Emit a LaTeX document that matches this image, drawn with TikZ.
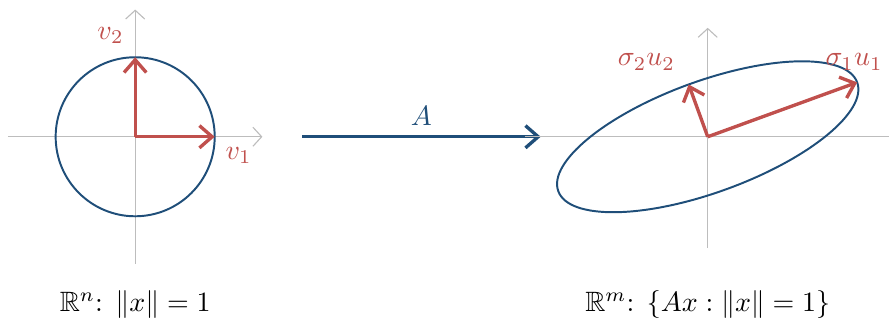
\documentclass[tikz,border=0pt]{standalone}
\usepackage{amsmath,amssymb}
\usepackage{xcolor}
\usepackage{tikz}
\usetikzlibrary{arrows.meta,positioning}
\definecolor{bluex}{HTML}{1F4E79}
\definecolor{redx}{HTML}{C0504D}
\definecolor{grayx}{HTML}{BDBDBD}
\tikzset{
  ax/.style={-{Straight Barb[length=1.1mm,width=2.4mm]},thin,grayx},
  axn/.style={thin,grayx},
  ar/.style={-{Straight Barb[length=1.6mm,width=2.8mm]},very thick,redx},
  arb/.style={-{Straight Barb[length=1.6mm,width=2.8mm]},very thick,bluex},
  cv/.style={draw=bluex,line width=0.7pt},
  lb/.style={text=redx}
}

\begin{document}
\begin{tikzpicture}
\useasboundingbox (-1.7,-2.33) rectangle (9.48,1.72);
% left: unit circle
\coordinate (o1) at (0,0);
\coordinate (x1a) at (-1.6,0); \coordinate (x1b) at (1.6,0);
\coordinate (y1a) at (0,-1.6); \coordinate (y1b) at (0,1.6);
\draw[ax] (x1a)--(x1b); \draw[ax] (y1a)--(y1b);
\draw[cv] (o1) circle (1);
\coordinate (v1) at (1,0); \coordinate (v2) at (0,1);
\draw[ar] (o1)--(v1); \draw[ar] (o1)--(v2);
\node[lb] (lv1) at (1.3,-0.24) {$v_1$};
\node[lb] (lv2) at (-0.31,1.27) {$v_2$};
\node (cap1) at (0,-2.11) {$\mathbb{R}^n$: $\|x\|=1$};
% the map
\coordinate (a0) at (2.1,0); \coordinate (a1) at (5.1,0);
\draw[arb] (a0)--(a1) node[midway,above,text=bluex] (la) {$A$};
% right: image ellipse
\coordinate (o2) at (7.2,0);
\coordinate (x2a) at (4.9,0); \coordinate (x2b) at (9.5,0);
\coordinate (y2a) at (7.2,-1.4); \coordinate (y2b) at (7.2,1.37);
\draw[axn] (x2a)--(x2b); \draw[ax] (y2a)--(y2b);
\draw[cv,rotate around={20:(o2)}] (o2) ellipse (2 and 0.7);
\coordinate (s1) at ([shift={(20:2)}]o2);
\coordinate (s2) at ([shift={(110:0.7)}]o2);
\draw[ar] (o2)--(s1); \draw[ar] (o2)--(s2);
\node[lb] (ls1) at (9.04,0.94) {$\sigma_1 u_1$};
\node[lb] (ls2) at (6.43,0.94) {$\sigma_2 u_2$};
\node (cap2) at (7.2,-2.11) {$\mathbb{R}^m$: $\{Ax : \|x\|=1\}$};
\end{tikzpicture}
\end{document}
